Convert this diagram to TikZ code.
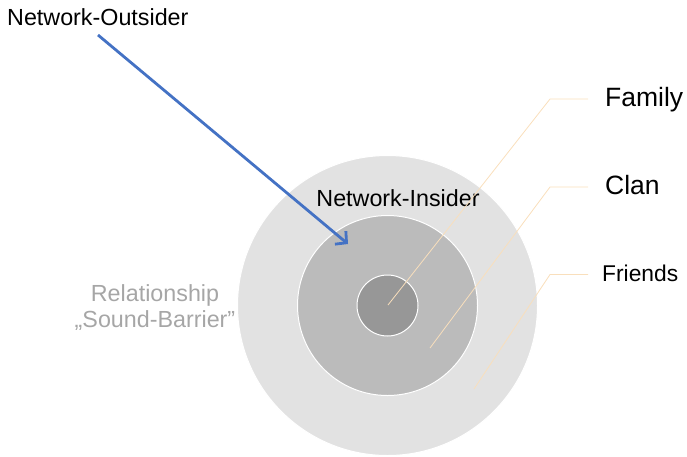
\documentclass[tikz,border=0pt]{standalone}
\usepackage{fontspec}
\setmainfont{Liberation Sans}
\usetikzlibrary{arrows.meta}
\definecolor{ringout}{HTML}{E2E2E2}
\definecolor{ringmid}{HTML}{BBBBBB}
\definecolor{ringin}{HTML}{979797}
\definecolor{leadc}{HTML}{F9DFBC}
\definecolor{arrowblue}{HTML}{4472C4}
\definecolor{softgray}{HTML}{A6A6A6}
\tikzset{
  ring/.style={circle, draw=white, line width=1pt, inner sep=0pt},
  lbl/.style={inner sep=0pt, text=black},
  leader/.style={draw=leadc, line width=0.8pt},
  bigarrow/.style={draw=arrowblue, line width=2.8pt, -{Straight Barb[length=8pt,width=17pt]}}
}
\begin{document}
\begin{tikzpicture}[x=1pt,y=-1pt]
\useasboundingbox (0,0) rectangle (687,456);
% rings
\node[ring, fill=ringout, minimum size=300pt] (outer) at (387.5,305.5) {};
\node[ring, fill=ringmid, minimum size=180pt] (middle) at (387.5,305.5) {};
\node[ring, fill=ringin, minimum size=61pt] (inner) at (387.5,305.5) {};
% texts
\node[lbl, anchor=base west, font=\fontsize{23.3}{28}\selectfont] (outsider) at (7,25) {Network-Outsider};
\node[lbl, anchor=base, font=\fontsize{23.3}{28}\selectfont] (insider) at (398,206.5) {Network-Insider};
\node[lbl, anchor=north, align=center, text=softgray, font=\fontsize{23.3}{26}\selectfont] (barrier) at (155,284) {Relationship\\„Sound-Barrier”};
\node[lbl, anchor=base west, font=\fontsize{26.5}{30}\selectfont] (family) at (605,106.5) {Family};
\node[lbl, anchor=base west, font=\fontsize{26.5}{30}\selectfont] (clan) at (605,194.5) {Clan};
\node[lbl, anchor=base west, font=\fontsize{22.8}{27}\selectfont] (friends) at (602,281.5) {Friends};
% leader lines
\coordinate (famIn) at (388,305);
\coordinate (famBend) at (550,99);
\coordinate (famEnd) at (588,99);
\coordinate (clanIn) at (430,348);
\coordinate (clanBend) at (550,187);
\coordinate (clanEnd) at (588,187);
\coordinate (friIn) at (474,389);
\coordinate (friBend) at (550,274.5);
\coordinate (friEnd) at (588,274.5);
\draw[leader] (famIn) -- (famBend) -- (famEnd);
\draw[leader] (clanIn) -- (clanBend) -- (clanEnd);
\draw[leader] (friIn) -- (friBend) -- (friEnd);
% arrow
\coordinate (arrStart) at (98,35);
\coordinate (arrTip) at (348,244);
\draw[bigarrow] (arrStart) -- (arrTip);
\end{tikzpicture}
\end{document}
